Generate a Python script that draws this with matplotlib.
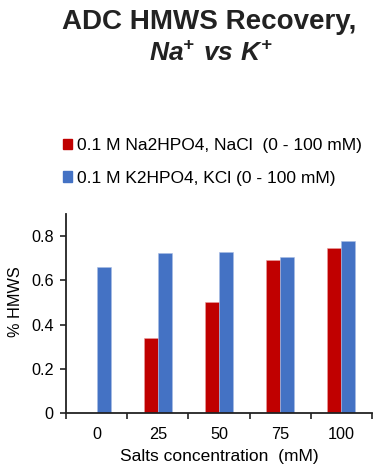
import numpy as np
import matplotlib
matplotlib.use("Agg")
import matplotlib.pyplot as plt
from matplotlib.patches import Patch

plt.rcParams['font.family'] = ['Liberation Sans', 'DejaVu Sans']
plt.rcParams['mathtext.fontset'] = 'custom'
plt.rcParams['mathtext.bfit'] = 'Liberation Sans:italic:bold'
plt.rcParams['mathtext.rm'] = 'Liberation Sans'

# data
categories = ['0', '25', '50', '75', '100']
na_values = [0.0, 0.337, 0.500, 0.690, 0.747]
k_values = [0.661, 0.722, 0.726, 0.706, 0.780]
na_label = '0.1 M Na2HPO4, NaCl  (0 - 100 mM)'
k_label = '0.1 M K2HPO4, KCl (0 - 100 mM)'
red = '#C00000'
blue = '#4472C4'

W, H = 382, 476
fig = plt.figure(figsize=(W / 100, H / 100), dpi=100)
ax = fig.add_axes([66 / W, 1 - 413 / H, (372 - 66) / W, (413 - 214) / H])

x = np.arange(len(categories))
bw = 0.23
ax.bar(x - bw / 2, na_values, width=bw, color=red, edgecolor='#e8a0a0', linewidth=0.4)
ax.bar(x + bw / 2, k_values, width=bw, color=blue, edgecolor='#a8bce4', linewidth=0.4)

ax.set_xlim(-0.5, len(categories) - 0.5)
ax.set_ylim(0, 0.9)
ax.set_yticks([0, 0.2, 0.4, 0.6, 0.8])
ax.set_yticklabels(['0', '0.2', '0.4', '0.6', '0.8'])
ax.set_xticks(x)
ax.set_xticklabels(categories)
ax.set_xticks(np.arange(-0.5, len(categories) + 0.5, 1.0), minor=True)
ax.tick_params(axis='x', which='major', length=0, pad=10, labelsize=11.7)
ax.tick_params(axis='x', which='minor', length=4, width=1.2, direction='out', color='#222')
ax.tick_params(axis='y', length=4, width=1.2, direction='out', color='#222', labelsize=11.7, pad=5)

for s in ['top', 'right']:
    ax.spines[s].set_visible(False)
for s in ['left', 'bottom']:
    ax.spines[s].set_linewidth(1.3)
    ax.spines[s].set_color('#222')

fig.text(219 / W, 1 - 457 / H, 'Salts concentration  (mM)', ha='center', va='center', fontsize=12.5)
fig.text(15 / W, 1 - 302 / H, '% HMWS', ha='center', va='center', rotation=90, fontsize=11.7)

fig.text(209 / W, 1 - 22 / H, 'ADC HMWS Recovery,', ha='center', va='center',
         fontsize=20, fontweight='bold', color='#222')
fig.text(211 / W, 1 - 54 / H, r'$\mathbfit{Na^{+}\ vs\ K^{+}}$', ha='center', va='center',
         fontsize=19, color='#222')

handles = [Patch(color=red), Patch(color=blue)]
fig.legend(handles, [na_label, k_label], loc='center left',
           bbox_to_anchor=(47 / W, 1 - 162 / H), frameon=False, fontsize=12.5,
           handlelength=0.55, handleheight=0.55, handletextpad=0.25, labelspacing=1.0)

fig.savefig('out.png', dpi=100)
